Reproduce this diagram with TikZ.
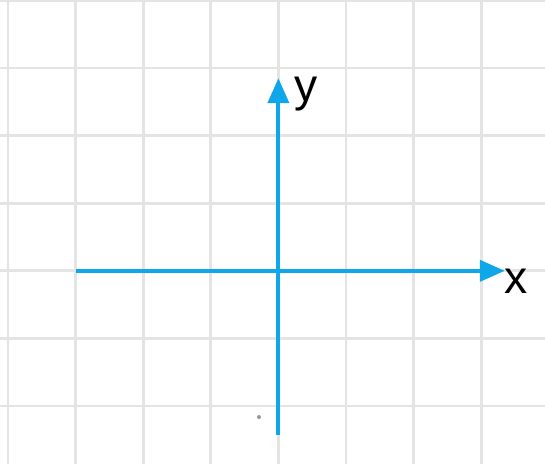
\documentclass[tikz,border=0pt]{standalone}
\usepackage{fontspec}
\setmainfont{Liberation Sans}
\usepackage{tikz}
\usetikzlibrary{
  arrows.meta,
  positioning
}
\definecolor{axisblue}{RGB}{16,166,234}
\definecolor{gridgray}{RGB}{228,228,228}
\tikzset{>={Triangle[length=0.37cm,width=0.31cm]}}
\tikzset{
  gridline/.style={draw=gridgray, line width=1.2pt},
  axisline/.style={draw=axisblue, line width=1.7pt, ->},
  axislabel/.style={inner sep=0pt, font=\fontsize{19.5}{20}\selectfont}
}

\begin{document}
\begin{tikzpicture}
				\useasboundingbox (-4.118,-2.858) rectangle (3.944,4.006);
				\fill[white] (-4.118,-2.858) rectangle (3.944,4.006);
				% grid
				\foreach \i in {-4,...,3}
					\draw[gridline] (\i,-2.858) -- (\i,4.006);
				\foreach \j in {-2,...,4}
					\draw[gridline] (-4.118,\j) -- (3.944,\j);
				% axes
				\coordinate (O) at (0,0);
				\coordinate (xstart) at (-3,0);
				\coordinate (xtip) at (3.35,0);
				\coordinate (ystart) at (0,-2.43);
				\coordinate (ytip) at (0,2.85);
				\draw[axisline] (xstart) -- (xtip);
				\draw[axisline] (ystart) -- (ytip);
				\node[axislabel, anchor=base west] (xlab) at (3.34,-0.33) {x};
				\node[axislabel, anchor=base west] (ylab) at (0.23,2.51) {y};
				\fill[gray!80] (-0.287,-2.163) circle (0.03);
			\end{tikzpicture}
\end{document}
